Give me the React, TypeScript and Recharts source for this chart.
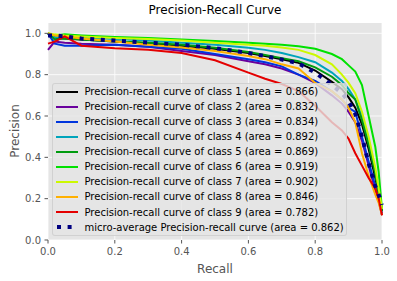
import { LineChart, Line, XAxis, YAxis, CartesianGrid } from "recharts"

// recall grid shared by all curves
const recall = [0, 0.02, 0.05, 0.1, 0.2, 0.3, 0.4, 0.5, 0.6, 0.65, 0.7, 0.75, 0.8, 0.85, 0.88, 0.9, 0.92, 0.94, 0.96, 0.98, 0.99, 1.0]

const class1 = [1.0, 0.98, 0.975, 0.97, 0.96, 0.952, 0.94, 0.925, 0.905, 0.89, 0.875, 0.857, 0.82, 0.765, 0.73, 0.69, 0.64, 0.56, 0.44, 0.3, 0.22, 0.14]
const class2 = [0.92, 0.96, 0.955, 0.95, 0.945, 0.935, 0.915, 0.895, 0.865, 0.85, 0.83, 0.8, 0.76, 0.7, 0.66, 0.62, 0.57, 0.48, 0.36, 0.24, 0.19, 0.12]
const class3 = [1.0, 0.95, 0.94, 0.94, 0.945, 0.935, 0.925, 0.9, 0.875, 0.86, 0.84, 0.8, 0.77, 0.72, 0.68, 0.64, 0.62, 0.5, 0.38, 0.26, 0.2, 0.13]
const class4 = [1.0, 0.98, 0.985, 0.98, 0.972, 0.965, 0.955, 0.945, 0.93, 0.92, 0.905, 0.885, 0.86, 0.81, 0.77, 0.73, 0.68, 0.6, 0.48, 0.33, 0.24, 0.15]
const class5 = [1.0, 0.97, 0.975, 0.97, 0.96, 0.955, 0.945, 0.93, 0.91, 0.895, 0.88, 0.865, 0.835, 0.79, 0.75, 0.71, 0.68, 0.58, 0.46, 0.32, 0.23, 0.14]
const class6 = [1.0, 0.99, 0.995, 0.99, 0.982, 0.977, 0.97, 0.963, 0.955, 0.95, 0.945, 0.937, 0.925, 0.9, 0.875, 0.845, 0.815, 0.75, 0.6, 0.45, 0.33, 0.15]
const class7 = [1.0, 0.995, 0.99, 0.985, 0.978, 0.972, 0.965, 0.955, 0.945, 0.94, 0.932, 0.92, 0.895, 0.85, 0.8, 0.76, 0.71, 0.62, 0.5, 0.35, 0.25, 0.15]
const class8 = [1.0, 0.99, 0.985, 0.975, 0.96, 0.945, 0.932, 0.915, 0.89, 0.875, 0.85, 0.83, 0.76, 0.72, 0.68, 0.64, 0.57, 0.42, 0.31, 0.22, 0.18, 0.12]
const class9 = [0.95, 0.96, 0.985, 0.94, 0.928, 0.92, 0.905, 0.87, 0.81, 0.78, 0.755, 0.72, 0.65, 0.57, 0.53, 0.49, 0.42, 0.36, 0.3, 0.25, 0.2, 0.12]
const micro = [0.99, 0.99, 0.985, 0.975, 0.965, 0.955, 0.945, 0.928, 0.905, 0.89, 0.873, 0.855, 0.81, 0.75, 0.71, 0.67, 0.61, 0.5, 0.37, 0.26, 0.22, 0.17]

const areas = ["0.866", "0.832", "0.834", "0.892", "0.869", "0.919", "0.902", "0.846", "0.782"]
const microArea = "0.862"
// nipy_spectral at i/9
const colors = ["#000000", "#6a009d", "#0035dd", "#00a4bb", "#009b0f", "#00e100", "#ccf900", "#ffb000", "#e40000"]
const classValues = [class1, class2, class3, class4, class5, class6, class7, class8, class9]

const ticks = [0, 0.2, 0.4, 0.6, 0.8, 1.0]

const data = recall.map((r, i) => {
  const row: Record<string, number> = { r, micro: micro[i] }
  classValues.forEach((vals, c) => {
    row[`c${c + 1}`] = vals[i]
  })
  return row
})

const font = "'DejaVu Sans', sans-serif"

export default function App() {
  return (
    <div style={{ position: "absolute", left: 0, top: 0, width: 397, height: 281, fontFamily: font, background: "#fff" }}>
      <div style={{ position: "absolute", left: 48, width: 334, top: 3, textAlign: "center", fontSize: 12, color: "#000" }}>
        Precision-Recall Curve
      </div>
      <LineChart width={397} height={281} data={data} margin={{ top: 23, right: 15, bottom: 0, left: 0 }}>
        <CartesianGrid fill="#E5E5E5" stroke="#ffffff" strokeWidth={0.8} horizontalValues={ticks} verticalValues={ticks} />
        <XAxis
          type="number"
          dataKey="r"
          domain={[0, 1]}
          ticks={ticks}
          tickFormatter={(v: number) => v.toFixed(1)}
          axisLine={false}
          tickLine={{ stroke: "#555555" }}
          tickSize={3.5}
          tickMargin={4.5}
          height={41}
          tick={{ fill: "#555555", fontSize: 10 }}
          label={() => (
            <text x={215} y={272.5} textAnchor="middle" fill="#555555" fontSize={12} fontFamily={font}>
              Recall
            </text>
          )}
        />
        <YAxis
          type="number"
          domain={[0, 1.05]}
          ticks={ticks}
          tickFormatter={(v: number) => v.toFixed(1)}
          axisLine={false}
          tickLine={{ stroke: "#555555" }}
          tickSize={3.5}
          tickMargin={3.5}
          width={48}
          tick={{ fill: "#555555", fontSize: 10 }}
          label={() => (
            <text x={18.5} y={131} transform="rotate(-90, 18.5, 131)" textAnchor="middle" fill="#555555" fontSize={12} fontFamily={font}>
              Precision
            </text>
          )}
        />
        {colors.map((col, c) => (
          <Line
            key={c}
            type="linear"
            dataKey={`c${c + 1}`}
            stroke={col}
            strokeWidth={2}
            dot={false}
            isAnimationActive={false}
          />
        ))}
        <Line
          type="linear"
          dataKey="micro"
          stroke="#000080"
          strokeWidth={4}
          strokeDasharray="4 6.6"
          dot={false}
          isAnimationActive={false}
        />
      </LineChart>
      <div
        style={{
          position: "absolute",
          left: 51.5,
          top: 83,
          width: 295.5,
          height: 153,
          boxSizing: "border-box",
          background: "rgba(229,229,229,0.8)",
          border: "1px solid rgba(204,204,204,0.8)",
          borderRadius: 3,
          paddingTop: 0,
          fontSize: 10,
          color: "#000",
        }}
      >
        {areas.map((a, c) => (
          <div key={c} style={{ height: 15.07, display: "flex", alignItems: "center", whiteSpace: "nowrap" }}>
            <div style={{ marginLeft: 3, width: 22, height: 2, background: colors[c] }} />
            <span style={{ marginLeft: 7 }}>{`Precision-recall curve of class ${c + 1} (area = ${a})`}</span>
          </div>
        ))}
        <div style={{ height: 15.07, display: "flex", alignItems: "center", whiteSpace: "nowrap" }}>
          <svg width={22} height={4} style={{ marginLeft: 3 }}>
            <line x1={1} y1={2} x2={22} y2={2} stroke="#000080" strokeWidth={4} strokeDasharray="4 6.6" />
          </svg>
          <span style={{ marginLeft: 7 }}>{`micro-average Precision-recall curve (area = ${microArea})`}</span>
        </div>
      </div>
    </div>
  )
}
